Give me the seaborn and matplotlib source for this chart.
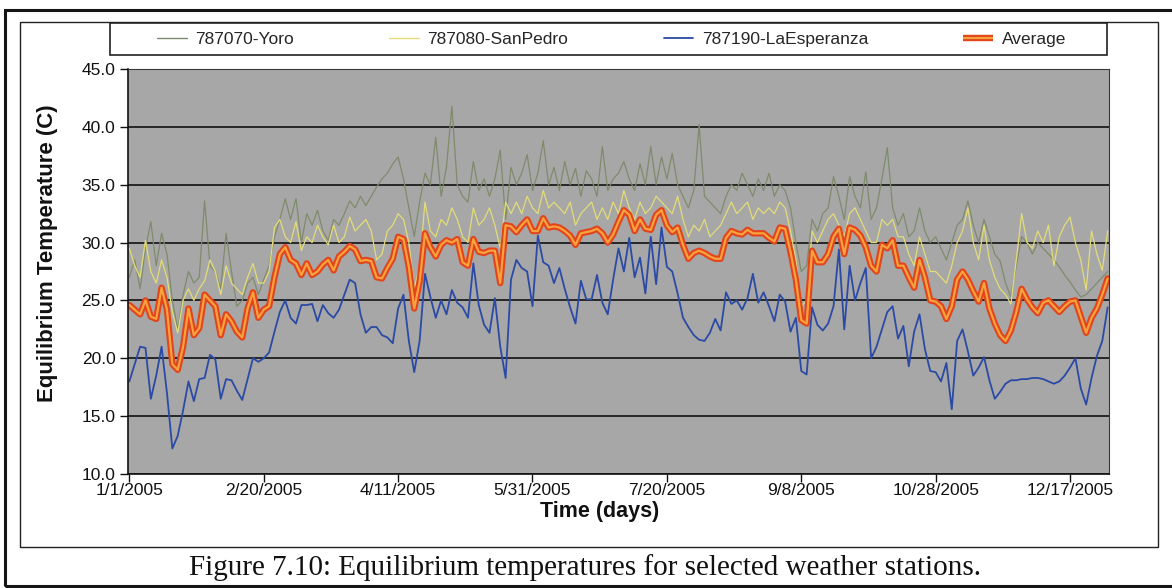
import numpy as np
import matplotlib
matplotlib.use("Agg")
import matplotlib.pyplot as plt
from matplotlib.patches import Rectangle
from matplotlib.lines import Line2D
import matplotlib.patheffects as pe
import seaborn as sns

# ---- data: daily equilibrium temperature (C), sampled every 2 days over 2005 ----
day_step = 2

yoro = [
    27.0, 28.5, 26.0, 29.5, 31.8, 28.0, 30.8, 29.0, 25.0, 22.5,
    25.5, 27.5, 26.5, 27.0, 33.6, 28.0, 27.5, 26.0, 30.8, 27.5,
    24.5, 25.0, 26.5, 27.0, 25.5, 26.8, 28.0, 30.5, 32.0, 33.8,
    32.0, 33.8, 30.0, 32.5, 31.5, 32.8, 31.0, 30.2, 32.0, 31.5,
    32.5, 33.6, 33.0, 34.0, 33.2, 34.0, 34.8, 35.5, 36.0, 36.8,
    37.4, 35.5, 33.0, 30.5, 33.5, 36.0, 35.0, 39.1, 34.0, 36.5,
    41.8, 35.0, 34.0, 33.5, 37.0, 34.5, 35.5, 34.0, 35.5, 38.0,
    32.0, 36.5, 35.0, 36.0, 37.6, 34.5, 36.0, 38.8, 35.0, 36.5,
    34.5, 37.0, 35.0, 36.4, 34.0, 36.2, 35.5, 34.0, 38.3, 34.5,
    35.5, 36.0, 37.0, 35.5, 34.5, 36.8, 35.0, 38.3, 35.0, 37.4,
    35.5, 37.7, 35.0, 34.0, 33.0, 34.5, 40.2, 34.0, 33.5, 33.0,
    32.5, 34.0, 35.0, 34.5, 36.0, 35.0, 34.0, 35.5, 34.5, 36.0,
    34.0, 35.0, 34.5, 33.0, 30.0, 27.5, 28.0, 32.0, 31.0, 32.5,
    33.0, 35.7, 34.0, 32.0, 35.7, 34.0, 33.0, 36.1, 32.0, 33.0,
    35.5, 38.2, 33.0, 31.5, 32.5, 30.5, 31.0, 33.0, 31.0, 30.0,
    30.5, 29.5, 28.5, 30.0, 31.5, 32.0, 33.6, 31.5, 30.0, 32.0,
    30.5, 29.0, 28.4, 26.5, 25.3, 28.0, 30.5, 30.0, 29.0, 30.0,
    29.5, 29.0, 28.5, 27.9, 27.2, 26.6, 25.9, 25.3, 25.5, 26.0,
    26.5, 27.0, 27.5,
]

san_pedro = [
    29.5, 28.0, 27.0, 30.2, 27.5, 26.5, 28.5, 27.0, 24.0, 22.2,
    25.0, 26.0, 25.0, 26.0, 26.7, 28.5, 27.5, 25.5, 28.0, 26.5,
    26.0, 25.5, 27.0, 28.2, 26.5, 26.5, 27.5, 31.3, 32.0, 30.5,
    30.0, 31.8, 29.3, 30.5, 30.0, 31.5, 30.5, 29.8, 31.5, 30.0,
    30.5, 32.2, 31.0, 31.5, 32.0, 31.0, 28.5, 29.0, 31.0, 31.5,
    32.5, 32.0, 30.0, 26.0, 28.0, 33.5, 31.0, 30.5, 32.0, 31.5,
    33.0, 32.0, 30.5, 30.0, 33.0, 31.5, 32.0, 33.0, 31.5, 29.5,
    33.5, 32.5, 33.5, 32.5, 34.0, 33.0, 32.5, 34.5, 33.0, 33.5,
    33.0, 32.5, 33.5, 31.5, 32.5, 33.0, 33.5, 32.0, 33.0, 32.0,
    33.5, 32.5, 34.5, 33.0, 32.0, 33.5, 32.5, 33.0, 34.0, 33.5,
    33.0, 32.5, 34.0, 32.0, 30.5, 31.5, 31.0, 32.0, 30.5, 31.0,
    31.5, 32.5, 33.5, 32.5, 33.0, 33.5, 32.0, 33.0, 32.5, 33.0,
    32.5, 33.5, 33.0, 31.0, 28.5, 24.5, 25.0, 31.0, 30.0, 31.0,
    32.0, 32.5, 31.5, 30.5, 32.5, 33.0, 32.0, 31.0, 30.0, 30.0,
    32.0, 31.5, 32.0, 30.5, 30.5, 29.0, 28.0, 30.5, 29.0, 27.5,
    27.5, 27.0, 26.5, 28.0, 30.0, 31.0, 33.0, 30.0, 28.5, 31.5,
    28.5, 27.0, 26.0, 25.5, 24.7, 28.5, 32.5, 30.0, 29.5, 31.0,
    30.0, 31.5, 28.0, 30.5, 31.5, 32.2, 30.0, 28.5, 25.9, 31.0,
    29.0, 27.6, 31.0,
]

la_esperanza = [
    18.0, 19.5, 21.0, 20.9, 16.5, 18.5, 21.0, 17.0, 12.2, 13.3,
    15.5, 18.0, 16.3, 18.2, 18.3, 20.3, 19.9, 16.5, 18.2, 18.1,
    17.2, 16.4, 18.2, 20.0, 19.7, 20.0, 20.5, 22.3, 24.0, 25.0,
    23.5, 23.0, 24.6, 24.6, 24.7, 23.2, 24.6, 23.9, 23.5, 24.2,
    25.5, 26.8, 26.5, 23.8, 22.2, 22.7, 22.7, 22.0, 21.8, 21.3,
    24.3, 25.5, 21.5, 18.8, 21.5, 27.3, 25.3, 23.5, 25.0, 23.8,
    25.9, 24.8, 24.4, 23.5, 28.2, 24.6, 22.9, 22.2, 25.2, 21.0,
    18.3, 26.8, 28.5, 27.8, 27.5, 24.5, 30.6, 28.3, 28.0, 26.5,
    27.8, 26.0, 24.4, 23.0, 26.7, 25.1, 25.1, 27.2, 24.8, 23.8,
    26.8, 29.5, 27.5, 30.4, 27.0, 28.7, 25.6, 30.5, 26.4, 31.3,
    27.9, 27.5, 25.6, 23.5, 22.7, 22.0, 21.6, 21.5, 22.2, 23.4,
    22.4, 25.7, 24.7, 25.0, 24.2, 25.2, 27.3, 24.8, 25.7, 24.5,
    23.2, 25.5, 24.9, 22.3, 23.5, 18.9, 18.6, 24.4, 22.9, 22.4,
    23.0, 24.5, 29.4, 22.5, 28.0, 25.0, 26.5, 27.8, 20.0, 21.0,
    22.5, 24.0, 24.5, 21.7, 22.8, 19.3, 22.3, 23.8, 20.8, 18.9,
    18.8, 18.0, 19.6, 15.6, 21.5, 22.5, 20.6, 18.5, 19.2, 20.1,
    18.1, 16.5, 17.1, 17.8, 18.1, 18.1, 18.2, 18.2, 18.3, 18.3,
    18.2, 18.0, 17.8, 18.0, 18.5, 19.2, 20.0, 17.4, 16.0, 18.3,
    20.2, 21.5, 24.4,
]

average = [
    24.6, 24.2, 23.8, 25.0, 23.6, 23.4, 26.1, 24.2, 19.5, 19.0,
    21.0, 24.3, 22.0, 22.6, 25.5, 25.0, 24.5, 22.0, 23.8, 23.2,
    22.3, 21.8, 24.3, 25.7, 23.5, 24.2, 24.5, 27.0, 29.0, 29.6,
    28.5, 28.2, 27.2, 28.2, 27.2, 27.5, 28.1, 28.5, 27.6, 28.8,
    29.2, 29.7, 29.4, 28.4, 28.5, 28.4, 27.0, 26.9, 27.8, 28.6,
    30.5, 30.3, 27.9, 24.3, 26.6, 30.8, 29.6, 28.8, 29.8, 30.2,
    30.0, 30.3, 28.3, 28.0, 30.3, 29.2, 29.1, 29.3, 29.3, 26.5,
    31.5, 31.4, 30.9, 31.5, 32.0, 31.0, 31.0, 32.1, 31.3, 31.4,
    31.3, 31.0, 30.6, 29.8, 30.8, 30.9, 31.0, 31.2, 30.8, 30.0,
    30.7, 31.8, 32.8, 32.4, 31.0, 32.0, 31.2, 31.1, 32.4, 32.8,
    31.5, 30.9, 31.3, 29.8, 28.6, 29.1, 29.3, 29.1, 28.8, 28.6,
    28.6, 30.4, 31.0, 30.8, 30.7, 31.1, 30.8, 30.8, 30.8, 30.4,
    30.1, 31.3, 31.2, 29.2, 26.8, 23.3, 23.0, 29.3, 28.3, 28.3,
    29.0, 30.5, 31.2, 29.0, 31.3, 31.1, 30.6, 29.6, 28.0, 27.5,
    29.8, 29.5, 30.2, 28.0, 28.0, 27.0, 26.1, 28.5, 27.0, 25.0,
    24.9, 24.5, 23.4, 24.5, 26.8, 27.5, 26.8, 25.8, 24.9, 26.5,
    24.3, 23.0, 22.0, 21.5, 22.4, 24.0, 26.0, 25.1, 24.4, 23.9,
    24.8, 25.0, 24.5, 24.0, 24.5, 24.9, 25.0, 23.6, 22.2, 23.5,
    24.3, 25.5, 26.9,
]

series_names = ["787070-Yoro", "787080-SanPedro", "787190-LaEsperanza", "Average"]
tick_days = [0, 50, 100, 150, 200, 250, 300, 350]
tick_labels = ["1/1/2005", "2/20/2005", "4/11/2005", "5/31/2005",
               "7/20/2005", "9/8/2005", "10/28/2005", "12/17/2005"]
y_ticks = [10, 15, 20, 25, 30, 35, 40, 45]

days = np.arange(len(average)) * day_step

# ---- style ----
sns.set_theme(style="white")
plt.rcParams["font.family"] = ["Liberation Sans", "DejaVu Sans"]

c_yoro = "#7f8b6c"
c_sanpedro = "#e3dc78"
c_laesp = "#2b4aa6"
c_avg_edge = "#e2441c"
c_avg_mid = "#f8a23e"
c_plot_bg = "#a7a7a7"
avg_effects = [pe.Stroke(linewidth=4.6, foreground=c_avg_edge), pe.Normal()]

W, H = 1172, 588
fig = plt.figure(figsize=(W / 100, H / 100), dpi=100)
fig.patch.set_facecolor("white")


def fx(x):
    return x / W


def fy(y):
    return 1 - y / H


def frame(x0, y0, x1, y1, **kw):
    fig.add_artist(Rectangle((fx(x0), fy(y1)), fx(x1) - fx(x0), fy(y0) - fy(y1),
                             transform=fig.transFigure, **kw))


# page frame and chart-area frame
frame(5, 10, 1200, 586, fill=False, ec="#151515", lw=2.2, zorder=0)
frame(20, 22, 1158, 547, fill=False, ec="#222222", lw=1.0, zorder=0)
# legend box
frame(110, 23, 1107, 55, fc="white", ec="#222222", lw=1.2, zorder=1)

ax = fig.add_axes([fx(128), fy(474), fx(1109) - fx(128), fy(69) - fy(474)])
ax.set_facecolor(c_plot_bg)

sns.lineplot(x=days, y=yoro, color=c_yoro, lw=0.9, ax=ax)
sns.lineplot(x=days, y=san_pedro, color=c_sanpedro, lw=0.9, ax=ax)
sns.lineplot(x=days, y=la_esperanza, color=c_laesp, lw=1.3, ax=ax)
sns.lineplot(x=days, y=average, color=c_avg_mid, lw=1.6, ax=ax)
ax.lines[-1].set_path_effects(avg_effects)

ax.set_xlim(-0.5, 364.5)
ax.set_ylim(10, 45)
ax.set_yticks(y_ticks)
ax.set_yticklabels([f"{v:.1f}" for v in y_ticks])
ax.set_xticks(tick_days)
ax.set_xticklabels(tick_labels)
ax.set_xlabel("")
ax.set_ylabel("")
ax.yaxis.grid(True, color="#111111", lw=1.2)
ax.xaxis.grid(False)
ax.set_axisbelow(True)
ax.tick_params(axis="both", direction="out", length=6, width=1, color="#111111",
               labelcolor="#111111", labelsize=12.5, bottom=True, left=True)
ax.tick_params(axis="x", pad=0.5)
ax.tick_params(axis="y", pad=3)
for side in ("left", "bottom"):
    ax.spines[side].set_color("#111111")
    ax.spines[side].set_linewidth(1.2)
for side in ("top", "right"):
    ax.spines[side].set_color("#3a3a3a")
    ax.spines[side].set_linewidth(0.8)

# legend across the top
handles = [
    Line2D([], [], color=c_yoro, lw=1.0),
    Line2D([], [], color=c_sanpedro, lw=1.0),
    Line2D([], [], color=c_laesp, lw=1.3),
    Line2D([], [], color=c_avg_mid, lw=1.6, solid_capstyle="butt",
           path_effects=[pe.Stroke(linewidth=4.6, foreground=c_avg_edge,
                                   capstyle="butt"), pe.Normal()]),
]
fig.legend(handles, series_names, loc="center",
           bbox_to_anchor=(fx(157), fy(54), fx(1066) - fx(157), fy(24) - fy(54)),
           bbox_transform=fig.transFigure, mode="expand", ncol=4, frameon=False,
           fontsize=12.5, handlelength=1.7, handletextpad=0.5, borderpad=0,
           borderaxespad=0)

fig.text(fx(48), fy(253), "Equilibrium Temperature (C)", rotation=90, ha="center",
         va="center", fontsize=16, fontweight="bold", color="#111111")
fig.text(fx(600), fy(512), "Time (days)", ha="center", va="center",
         fontsize=15.5, fontweight="bold", color="#111111")
fig.text(fx(585), fy(568), "Figure 7.10: Equilibrium temperatures for selected weather stations.",
         ha="center", va="center", fontsize=21, color="#111111",
         family=["Liberation Serif", "DejaVu Serif"])

fig.savefig("out.png", dpi=100, facecolor="white")
